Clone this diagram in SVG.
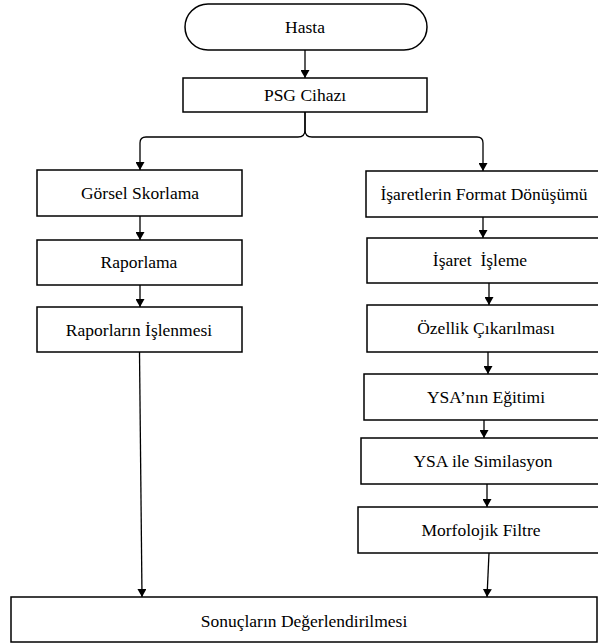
<svg xmlns="http://www.w3.org/2000/svg" width="598" height="643" viewBox="0 0 598 643">
<style>
.box{fill:#fff;stroke:#000;stroke-width:1.5}
.t{font-family:"Liberation Serif","Times New Roman",serif;font-size:17.5px;fill:#000;text-anchor:middle}
.c{fill:none;stroke:#000;stroke-width:1.3}
</style>
<defs>
<marker id="ah" markerUnits="userSpaceOnUse" markerWidth="9" markerHeight="9" refX="8" refY="4.5" orient="auto">
<path d="M0,0 L8,4.5 L0,9 z" fill="#000"/>
</marker>
</defs>
<rect width="598" height="643" fill="#fff"/>
<g id="connectors">
<path class="c" d="M305,50 V78" marker-end="url(#ah)"/>
<path class="c" d="M305,112 V130 Q305,137 298,137 H146 Q140,137 140,143 V170" marker-end="url(#ah)"/>
<path class="c" d="M305,112 V130 Q305,137 312,137 H477 Q483,137 483,143 V171" marker-end="url(#ah)"/>
<path class="c" d="M140,216 V240" marker-end="url(#ah)"/>
<path class="c" d="M140,285 V307" marker-end="url(#ah)"/>
<path class="c" d="M139.5,352 L142,597" marker-end="url(#ah)"/>
<path class="c" d="M483,217 V238" marker-end="url(#ah)"/>
<path class="c" d="M489,283 V305" marker-end="url(#ah)"/>
<path class="c" d="M488,352 V374" marker-end="url(#ah)"/>
<path class="c" d="M484,420 V438" marker-end="url(#ah)"/>
<path class="c" d="M487,484 V507" marker-end="url(#ah)"/>
<path class="c" d="M489,553 L487,597" marker-end="url(#ah)"/>
</g>
<g id="hasta">
<rect class="box" x="185" y="4" width="242" height="46" rx="23" ry="23"/>
<text class="t" x="305" y="33">Hasta</text>
</g>
<g id="psg">
<rect class="box" x="183" y="78" width="244" height="34"/>
<text class="t" x="305" y="101">PSG Cihazı</text>
</g>
<g id="gorsel">
<rect class="box" x="37" y="170" width="205" height="46"/>
<text class="t" x="140" y="199">Görsel Skorlama</text>
</g>
<g id="raporlama">
<rect class="box" x="37" y="240" width="205" height="45"/>
<text class="t" x="139" y="268">Raporlama</text>
</g>
<g id="raporlarin">
<rect class="box" x="37" y="307" width="205" height="45"/>
<text class="t" x="139" y="336">Raporların İşlenmesi</text>
</g>
<g id="format">
<rect class="box" x="366" y="171" width="240" height="46"/>
<text class="t" x="484" y="200">İşaretlerin Format Dönüşümü</text>
</g>
<g id="isleme">
<rect class="box" x="367" y="238" width="240" height="45"/>
<text class="t" x="480" y="266" xml:space="preserve">İşaret  İşleme</text>
</g>
<g id="ozellik">
<rect class="box" x="367" y="305" width="240" height="47"/>
<text class="t" x="486" y="334">Özellik Çıkarılması</text>
</g>
<g id="egitim">
<rect class="box" x="364" y="374" width="245" height="46"/>
<text class="t" x="486" y="403">YSA’nın Eğitimi</text>
</g>
<g id="simulasyon">
<rect class="box" x="361" y="438" width="245" height="46"/>
<text class="t" x="483" y="467">YSA ile Similasyon</text>
</g>
<g id="filtre">
<rect class="box" x="358" y="507" width="247" height="46"/>
<text class="t" x="481" y="536">Morfolojik Filtre</text>
</g>
<g id="sonuc">
<rect class="box" x="11" y="597" width="586" height="45"/>
<text class="t" x="304" y="627">Sonuçların Değerlendirilmesi</text>
</g>
</svg>
